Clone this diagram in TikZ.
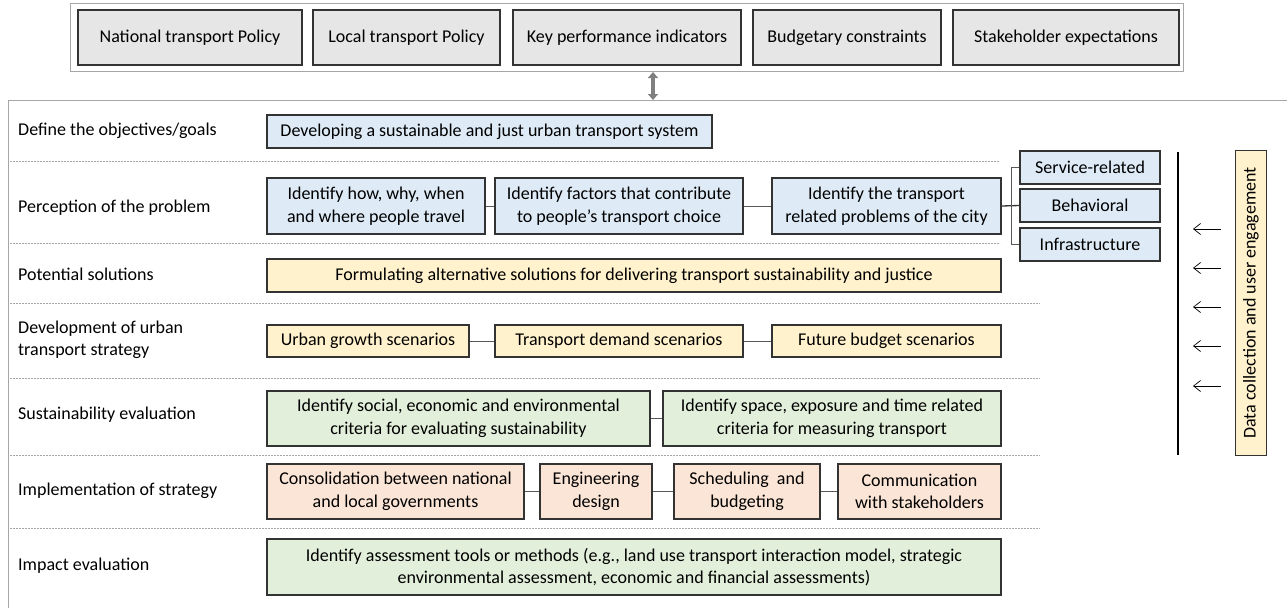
\documentclass[tikz,border=0pt]{standalone}
\usepackage{fontspec}
\setmainfont{Carlito}
\usepackage{tikz}
\usetikzlibrary{positioning}
\usetikzlibrary{shapes,arrows,arrows.meta}

\definecolor{boxgray}{HTML}{E7E6E6}
\definecolor{boxblue}{HTML}{DEEBF7}
\definecolor{boxyellow}{HTML}{FFF2CC}
\definecolor{boxgreen}{HTML}{E2EFDA}
\definecolor{boxsalmon}{HTML}{FBE5D6}
\definecolor{framegray}{HTML}{A6A6A6}
\definecolor{linkgray}{HTML}{595959}

\begin{document}
\begin{tikzpicture}[x=1pt,y=-1pt,>={Straight Barb[length=7pt,width=11pt]},
  font=\fontsize{18}{22.5}\selectfont]
\tikzset{BoxStyle/.style = {draw=black!80,line width=1.1pt,rectangle,
                            inner sep=0pt,align=center},
         RowLabel/.style = {anchor=west,align=left,inner sep=0pt},
         LinkStyle/.style = {draw=linkgray,line width=1pt},
         SepLine/.style = {draw=framegray,dashed,dash pattern=on 2pt off 1pt,line width=0.6pt}}
\useasboundingbox (0,0) rectangle (1287,608);

% drivers on top
\node[draw=framegray,line width=1pt,minimum width=1113,minimum height=68,inner sep=0pt] (drivers) at (626.5,37) {};
\node[BoxStyle,fill=boxgray,minimum width=224,minimum height=55] (national) at (190,37.5) {National transport Policy};
\node[BoxStyle,fill=boxgray,minimum width=187,minimum height=55] (local) at (406.5,37.5) {Local transport Policy};
\node[BoxStyle,fill=boxgray,minimum width=228,minimum height=55] (kpi) at (627,37.5) {Key performance indicators};
\node[BoxStyle,fill=boxgray,minimum width=188,minimum height=55] (budget) at (847,37.5) {Budgetary constraints};
\node[BoxStyle,fill=boxgray,minimum width=226,minimum height=55] (stake) at (1066,37.5) {Stakeholder expectations};

\coordinate (arrtop) at (653,72);
\coordinate (arrbot) at (653,100);
\draw[draw=gray,line width=3.5pt,{Triangle[length=6pt,width=10pt]}-{Triangle[length=6pt,width=10pt]}] (arrtop) -- (arrbot);

% outer frame
\draw[draw=framegray,line width=1pt] (1287,100) -- (8,100) -- (8,608);

% row labels
\node[RowLabel] (lgoal) at (18,131) {Define the objectives/goals};
\node[RowLabel] (lperc) at (18,208) {Perception of the problem};
\node[RowLabel] (lsol) at (18,274) {Potential solutions};
\node[RowLabel] (ldev) at (18,340) {Development of urban\\transport strategy};
\node[RowLabel] (lsus) at (18,415) {Sustainability evaluation};
\node[RowLabel] (limp) at (18,491) {Implementation of strategy};
\node[RowLabel] (lev) at (18,566) {Impact evaluation};

% separators
\foreach \y/\e in {161/1000,243/1000,303/1040,378/1040,455/1040,528/1040}
  \draw[SepLine] (10,\y) -- (\e,\y);

% goals
\node[BoxStyle,fill=boxblue,minimum width=445,minimum height=33] (goal) at (489.5,131.5)
  {Developing a sustainable and just urban transport system};

% perception
\node[BoxStyle,fill=boxblue,minimum width=218,minimum height=56] (how) at (376,206)
  {Identify how, why, when\\and where people travel};
\node[BoxStyle,fill=boxblue,minimum width=248,minimum height=56] (factors) at (619,206)
  {Identify factors that contribute\\to people’s transport choice};
\node[BoxStyle,fill=boxblue,minimum width=229,minimum height=56] (problems) at (886.5,206)
  {Identify the transport\\related problems of the city};
\node[BoxStyle,fill=boxblue,minimum width=140,minimum height=33] (service) at (1090,167.5) {Service-related};
\node[BoxStyle,fill=boxblue,minimum width=140,minimum height=33] (behav) at (1090,205.5) {Behavioral};
\node[BoxStyle,fill=boxblue,minimum width=140,minimum height=33] (infra) at (1090,244.5) {Infrastructure};
\draw[LinkStyle] (how) -- (factors);
\draw[LinkStyle] (factors) -- (problems);
\draw[draw=black!80,line width=1.3pt] (problems.east) -- (behav.west);
\draw[LinkStyle] (service.west) -- ++(-8,0) |- (infra.west);

% solutions
\node[BoxStyle,fill=boxyellow,minimum width=734,minimum height=33] (solutions) at (634,275.5)
  {Formulating alternative solutions for delivering transport sustainability and justice};

% strategy
\node[BoxStyle,fill=boxyellow,minimum width=202,minimum height=32] (growth) at (368,341) {Urban growth scenarios};
\node[BoxStyle,fill=boxyellow,minimum width=248,minimum height=32] (demand) at (619,341) {Transport demand scenarios};
\node[BoxStyle,fill=boxyellow,minimum width=229,minimum height=32] (future) at (886.5,341) {Future budget scenarios};
\draw[LinkStyle] (growth) -- (demand);
\draw[LinkStyle] (demand) -- (future);

% sustainability
\node[BoxStyle,fill=boxgreen,minimum width=383,minimum height=55] (criteria) at (458.5,418.5)
  {Identify social, economic and environmental\\criteria for evaluating sustainability};
\node[BoxStyle,fill=boxgreen,minimum width=338,minimum height=55] (space) at (832,418.5)
  {Identify space, exposure and time related\\criteria for measuring transport};
\draw[LinkStyle] (criteria) -- (space);

% implementation
\node[BoxStyle,fill=boxsalmon,minimum width=257,minimum height=55] (consol) at (395.5,491.5)
  {Consolidation between national\\and local governments};
\node[BoxStyle,fill=boxsalmon,minimum width=112,minimum height=55] (engin) at (596,491.5)
  {Engineering\\design};
\node[BoxStyle,fill=boxsalmon,minimum width=146,minimum height=55] (sched) at (747,491.5)
  {Scheduling~ and\\budgeting};
\node[BoxStyle,fill=boxsalmon,minimum width=163,minimum height=55] (comm) at (919.5,491.5)
  {Communication\\with stakeholders};
\draw[LinkStyle] (consol) -- (engin);
\draw[LinkStyle] (engin) -- (sched);
\draw[LinkStyle] (sched) -- (comm);

% impact
\node[BoxStyle,fill=boxgreen,minimum width=734,minimum height=56] (tools) at (634,567)
  {Identify assessment tools or methods (e.g., land use transport interaction model, strategic\\
   environmental assessment, economic and financial assessments)};

% data collection
\node[BoxStyle,fill=boxyellow,rotate=90,minimum width=305,minimum height=31] (data) at (1251,303)
  {Data collection and user engagement};
\coordinate (bartop) at (1178,152);
\coordinate (barbot) at (1178,455);
\draw[line width=1.3pt] (bartop) -- (barbot);
\foreach \y [count=\i] in {229,268,307,346,386} {
  \coordinate (src\i) at (1221,\y);
  \coordinate (dst\i) at (1193,\y);
  \draw[->,line width=0.7pt] (src\i) -- (dst\i);
}
\end{tikzpicture}
\end{document}
